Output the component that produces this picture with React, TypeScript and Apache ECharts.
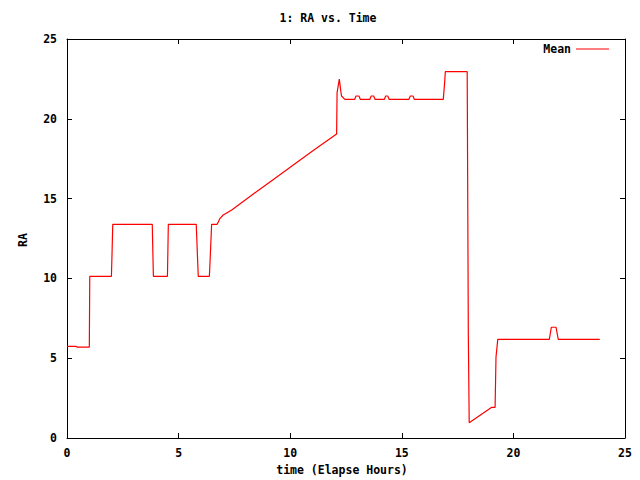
import React, { useEffect, useRef } from "react";
import * as echarts from "echarts";

const timeHours: number[] = [
  0, 0.4, 0.45, 1.0, 1.02, 1.99, 2.02, 2.05, 3.82, 3.87, 4.5, 4.54, 5.79, 5.88,
  6.38, 6.48, 6.73, 6.85, 7.0, 7.38, 8.0, 9.0, 10.0, 11.0, 12.08, 12.1, 12.2,
  12.27, 12.3, 12.45, 12.89, 12.95, 13.08, 13.14, 13.57, 13.63, 13.74, 13.8,
  14.22, 14.28, 14.37, 14.43, 15.32, 15.38, 15.5, 15.56, 16.86, 16.92, 16.95,
  17.93, 17.98, 18.02, 19.03, 19.18, 19.22, 19.3, 21.61, 21.7, 21.91, 22.01,
  23.87,
];
const raMean: number[] = [
  5.74, 5.74, 5.7, 5.7, 10.13, 10.13, 11.7, 13.39, 13.39, 10.13, 10.13, 13.39,
  13.39, 10.13, 10.13, 13.39, 13.39, 13.75, 13.97, 14.29, 14.93, 15.95, 16.97,
  17.98, 19.05, 21.64, 22.49, 21.7, 21.43, 21.22, 21.22, 21.43, 21.43, 21.22,
  21.22, 21.43, 21.43, 21.22, 21.22, 21.43, 21.43, 21.22, 21.22, 21.43, 21.43,
  21.22, 21.22, 22.3, 22.95, 22.95, 6.56, 0.96, 1.92, 1.92, 5.06, 6.18, 6.18,
  6.94, 6.94, 6.18, 6.18,
];
const seriesName = "Mean";
const titleText = "1: RA vs. Time";
const xLabel = "time (Elapse Hours)";
const yLabel = "RA";

const FONT = "DejaVu Sans Mono";

export default function App() {
  const ref = useRef<HTMLDivElement>(null);
  useEffect(() => {
    if (!ref.current) return;
    const chart = echarts.init(ref.current, null, { renderer: "svg" });
    const txt = { fontFamily: FONT, fontSize: 11.5, fontWeight: "bold", color: "#000" };
    const baseX = {
      type: "value",
      min: 0,
      max: 25,
      interval: 5,
      splitLine: { show: false },
      axisLine: { show: true, onZero: false, lineStyle: { color: "#000", width: 1 } },
      axisTick: { show: true, inside: true, length: 5, lineStyle: { color: "#000" } },
    };
    const baseY = {
      type: "value",
      min: 0,
      max: 25,
      interval: 5,
      splitLine: { show: false },
      axisLine: { show: true, onZero: false, lineStyle: { color: "#000", width: 1 } },
      axisTick: { show: true, inside: true, length: 5, lineStyle: { color: "#000" } },
    };
    chart.setOption({
      animation: false,
      backgroundColor: "#fff",
      grid: { left: 67, right: 15, top: 39, bottom: 42, containLabel: false },
      xAxis: [
        { ...baseX, position: "bottom", axisLabel: { ...txt, margin: 9 } },
        { ...baseX, position: "top", axisLabel: { show: false } },
      ],
      yAxis: [
        { ...baseY, position: "left", axisLabel: { ...txt, margin: 10 } },
        { ...baseY, position: "right", axisLabel: { show: false } },
      ],
      legend: {
        right: 31,
        top: 43,
        align: "right",
        padding: 0,
        icon: "rect",
        itemWidth: 33,
        itemHeight: 1,
        itemGap: 8,
        textStyle: { ...txt, padding: [0, 0, 0, 0] },
        data: [seriesName],
      },
      graphic: [
        {
          type: "text",
          x: 328,
          y: 18,
          style: { text: titleText, font: `bold 11.5px "${FONT}"`, fill: "#000", textAlign: "center", textVerticalAlign: "middle" },
        },
        {
          type: "text",
          x: 342,
          y: 470,
          style: { text: xLabel, font: `bold 11.5px "${FONT}"`, fill: "#000", textAlign: "center", textVerticalAlign: "middle" },
        },
        {
          type: "text",
          x: 23,
          y: 240,
          rotation: Math.PI / 2,
          style: { text: yLabel, font: `bold 11.5px "${FONT}"`, fill: "#000", textAlign: "center", textVerticalAlign: "middle" },
        },
      ],
      series: [
        {
          name: seriesName,
          type: "line",
          symbol: "none",
          showSymbol: false,
          color: "#ff0000",
          lineStyle: { color: "#ff0000", width: 1.2 },
          data: timeHours.map((t, i) => [t, raMean[i]]),
        },
      ],
    });
    return () => chart.dispose();
  }, []);
  return <div ref={ref} style={{ width: 640, height: 480, position: "absolute", left: 0, top: 0 }} />;
}
